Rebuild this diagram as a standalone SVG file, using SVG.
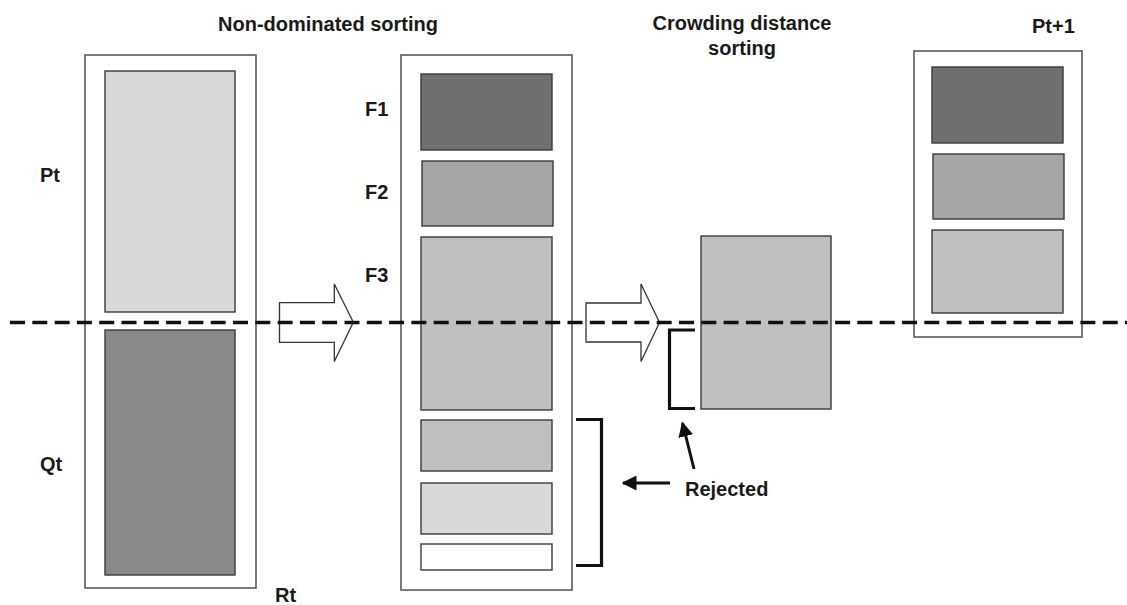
<svg xmlns="http://www.w3.org/2000/svg" width="1127" height="605" viewBox="0 0 1127 605">
<style>
.outer{fill:#fff;stroke:#5a5a5a;stroke-width:1.6}
.inner{stroke:#3a3a3a;stroke-width:1.4}
.lbl{font-family:"Liberation Sans",Arial,sans-serif;font-weight:bold;font-size:20px;fill:#1a1a1a}
.big{fill:#fff;stroke:#333;stroke-width:1.3}
.brk{fill:none;stroke:#111;stroke-width:3.2}
</style>
<defs>
<marker id="ah" viewBox="0 0 10 10" refX="9" refY="5" markerWidth="5" markerHeight="5" orient="auto" markerUnits="strokeWidth">
<path d="M0,0 L10,5 L0,10 z" fill="#111"/>
</marker>
</defs>
<rect width="1127" height="605" fill="#fff"/>
<g id="titles">
<text class="lbl" x="328" y="31" text-anchor="middle">Non-dominated sorting</text>
<text class="lbl" x="742" y="30" text-anchor="middle">Crowding distance</text>
<text class="lbl" x="742" y="55" text-anchor="middle">sorting</text>
<text class="lbl" x="1032" y="33">Pt+1</text>
</g>
<g id="Rt">
<rect class="outer" x="85" y="55" width="171" height="533"/>
<rect id="Pt" class="inner" x="105" y="71" width="130" height="241" fill="#d9d9d9"/>
<rect id="Qt" class="inner" x="105" y="330" width="130" height="245" fill="#898989"/>
<text class="lbl" x="40" y="182">Pt</text>
<text class="lbl" x="40" y="471">Qt</text>
<text class="lbl" x="275" y="602">Rt</text>
</g>
<g id="sorted">
<rect class="outer" x="401" y="55" width="171" height="535"/>
<rect id="F1" class="inner" x="421" y="74" width="131" height="76" fill="#707070"/>
<rect id="F2" class="inner" x="422" y="161" width="131" height="65" fill="#a6a6a6"/>
<rect id="F3" class="inner" x="421" y="237" width="131" height="173" fill="#c0c0c0"/>
<rect id="F4" class="inner" x="421" y="420" width="131" height="51" fill="#bfbfbf"/>
<rect id="F5" class="inner" x="421" y="483" width="131" height="51" fill="#d9d9d9"/>
<rect id="F6" class="inner" x="421" y="544" width="131" height="26" fill="#fff"/>
<text class="lbl" x="365" y="116">F1</text>
<text class="lbl" x="365" y="199">F2</text>
<text class="lbl" x="365" y="282">F3</text>
</g>
<g id="crowding">
<rect class="inner" x="701" y="236" width="130" height="173" fill="#c0c0c0"/>
</g>
<g id="next">
<rect class="outer" x="914" y="51" width="168" height="286"/>
<rect class="inner" x="932" y="67" width="131" height="76" fill="#707070"/>
<rect class="inner" x="933" y="154" width="131" height="65" fill="#a6a6a6"/>
<rect class="inner" x="932" y="230" width="131" height="83" fill="#c0c0c0"/>
</g>
<g id="connectors">
<path class="big" d="M279.5,302.7 H334.3 V284 L353.3,322.3 L334.3,361.5 V342.3 H279.5 Z"/>
<path class="big" d="M586,303 H641 V284 L659.5,322.5 L641,361.5 V342 H586 Z"/>
<line x1="10" y1="322.5" x2="1127" y2="322.5" stroke="#111" stroke-width="3.5" stroke-dasharray="15 7.3"/>
<path class="brk" d="M576,419.5 H601.5 V565.5 H576"/>
<path class="brk" d="M695,330 H669.5 V408.5 H695"/>
<line x1="670" y1="483" x2="623" y2="483" stroke="#111" stroke-width="3" marker-end="url(#ah)"/>
<line x1="694" y1="469" x2="682.5" y2="423" stroke="#111" stroke-width="3" marker-end="url(#ah)"/>
<text class="lbl" x="685" y="496">Rejected</text>
</g>
</svg>
